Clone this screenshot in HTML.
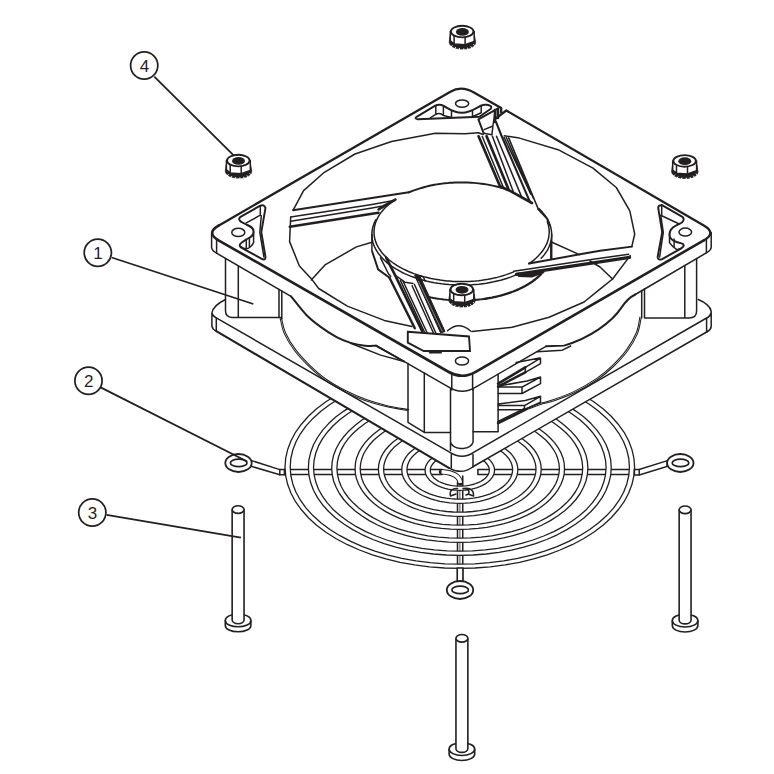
<!DOCTYPE html>
<html><head><meta charset="utf-8"><title>Fan assembly</title>
<style>
html,body{margin:0;padding:0;background:#fff}
svg{display:block}
.t{fill:none;stroke:#231f20;stroke-width:1.5;stroke-linecap:round;stroke-linejoin:round}
.m{fill:none;stroke:#231f20;stroke-width:1.95;stroke-linecap:round;stroke-linejoin:round}
.k{fill:none;stroke:#231f20;stroke-width:2.6;stroke-linecap:round;stroke-linejoin:round}
.w{fill:none;stroke-linecap:butt}
.l{stroke:#231f20;stroke-width:1.8}
text{font-family:"Liberation Sans",sans-serif;font-size:17px;fill:#231f20}
</style></head><body>
<svg width="774" height="774" viewBox="0 0 774 774">
<rect width="774" height="774" fill="#fff"/>
<g id="guard">
<path class="t" d="M284.4,469.5 H442.2 V474.6 H284.4 M635,469.5 H477.9 V474.6 H635" />
<path class="t" d="M457.5,482 V582 M462.75,476 V582" />
<path class="t" d="M459.9,490 V566" style="stroke-width:0.8"/>
<path d="M634.6,467.0 L633.9,475.8 L631.9,484.6 L628.6,493.2 L624.1,501.7 L618.2,509.8 L611.2,517.7 L603.0,525.2 L593.7,532.2 L583.4,538.7 L572.2,544.7 L560.1,550.0 L547.2,554.8 L533.7,558.9 L519.6,562.3 L505.0,564.9 L490.2,566.8 L475.0,568.0 L459.8,568.4 L444.6,568.0 L429.4,566.8 L414.6,564.9 L400.0,562.3 L385.9,558.9 L372.4,554.8 L359.5,550.0 L347.4,544.7 L336.2,538.7 L325.9,532.2 L316.6,525.2 L308.4,517.7 L301.4,509.8 L295.5,501.7 L291.0,493.2 L287.7,484.6 L285.7,475.8 L285.0,467.0 L285.7,458.2 L287.7,449.4 L291.0,440.8 L295.5,432.3 L301.4,424.2 L308.4,416.3 L316.6,408.8 L325.9,401.8 L336.2,395.3 L347.4,389.3 L359.5,384.0 L372.4,379.2 L385.9,375.1 L400.0,371.7 L414.6,369.1 L429.4,367.2 L444.6,366.0 L459.8,365.6 L475.0,366.0 L490.2,367.2 L505.0,369.1 L519.6,371.7 L533.7,375.1 L547.2,379.2 L560.1,384.0 L572.2,389.3 L583.4,395.3 L593.7,401.8 L603.0,408.8 L611.2,416.3 L618.2,424.2 L624.1,432.3 L628.6,440.8 L631.9,449.4 L633.9,458.2 L634.6,467.0 Z M629.4,467.0 L628.8,475.5 L626.8,483.9 L623.6,492.2 L619.2,500.2 L613.5,508.1 L606.7,515.6 L598.7,522.7 L589.7,529.5 L579.7,535.7 L568.8,541.4 L557.1,546.6 L544.6,551.2 L531.5,555.1 L517.8,558.3 L503.7,560.9 L489.3,562.7 L474.6,563.8 L459.8,564.2 L445.0,563.8 L430.3,562.7 L415.9,560.9 L401.8,558.3 L388.1,555.1 L375.0,551.2 L362.5,546.6 L350.8,541.4 L339.9,535.7 L329.9,529.5 L320.9,522.7 L312.9,515.6 L306.1,508.1 L300.4,500.2 L296.0,492.2 L292.8,483.9 L290.8,475.5 L290.2,467.0 L290.8,458.5 L292.8,450.1 L296.0,441.8 L300.4,433.8 L306.1,425.9 L312.9,418.4 L320.9,411.3 L329.9,404.5 L339.9,398.3 L350.8,392.6 L362.5,387.4 L375.0,382.8 L388.1,378.9 L401.8,375.7 L415.9,373.1 L430.3,371.3 L445.0,370.2 L459.8,369.8 L474.6,370.2 L489.3,371.3 L503.7,373.1 L517.8,375.7 L531.5,378.9 L544.6,382.8 L557.1,387.4 L568.8,392.6 L579.7,398.3 L589.7,404.5 L598.7,411.3 L606.7,418.4 L613.5,425.9 L619.2,433.8 L623.6,441.8 L626.8,450.1 L628.8,458.5 L629.4,467.0 Z" fill="#fff" fill-rule="evenodd" stroke="#231f20" stroke-width="1.3" stroke-linejoin="round"/>
<path d="M611.2,467.5 L610.7,475.2 L608.9,482.8 L606.1,490.3 L602.1,497.6 L597.1,504.7 L591.0,511.5 L583.9,517.9 L575.8,524.0 L566.9,529.6 L557.2,534.8 L546.7,539.5 L535.5,543.6 L523.8,547.1 L511.6,550.1 L499.0,552.4 L486.1,554.0 L473.0,555.0 L459.8,555.4 L446.6,555.0 L433.5,554.0 L420.6,552.4 L408.0,550.1 L395.8,547.1 L384.1,543.6 L372.9,539.5 L362.4,534.8 L352.7,529.6 L343.8,524.0 L335.7,517.9 L328.6,511.5 L322.5,504.7 L317.5,497.6 L313.5,490.3 L310.7,482.8 L308.9,475.2 L308.4,467.5 L308.9,459.9 L310.7,452.3 L313.5,444.8 L317.5,437.5 L322.5,430.4 L328.6,423.6 L335.7,417.1 L343.8,411.1 L352.7,405.4 L362.4,400.2 L372.9,395.6 L384.1,391.5 L395.8,387.9 L408.0,385.0 L420.6,382.7 L433.5,381.0 L446.6,380.0 L459.8,379.7 L473.0,380.0 L486.1,381.0 L499.0,382.7 L511.6,385.0 L523.8,387.9 L535.5,391.5 L546.7,395.6 L557.2,400.2 L566.9,405.4 L575.8,411.1 L583.9,417.1 L591.0,423.6 L597.1,430.4 L602.1,437.5 L606.1,444.8 L608.9,452.3 L610.7,459.9 L611.2,467.5 Z M606.1,467.5 L605.5,474.8 L603.8,482.1 L601.1,489.2 L597.2,496.1 L592.3,502.9 L586.5,509.4 L579.6,515.5 L571.8,521.3 L563.2,526.7 L553.8,531.6 L543.7,536.0 L532.9,540.0 L521.6,543.3 L509.8,546.1 L497.7,548.3 L485.2,549.9 L472.5,550.9 L459.8,551.2 L447.1,550.9 L434.4,549.9 L421.9,548.3 L409.8,546.1 L398.0,543.3 L386.7,540.0 L375.9,536.0 L365.8,531.6 L356.4,526.7 L347.8,521.3 L340.0,515.5 L333.1,509.4 L327.3,502.9 L322.4,496.1 L318.5,489.2 L315.8,482.1 L314.1,474.8 L313.5,467.5 L314.1,460.2 L315.8,453.0 L318.5,445.9 L322.4,438.9 L327.3,432.2 L333.1,425.7 L340.0,419.6 L347.8,413.8 L356.4,408.4 L365.8,403.5 L375.9,399.0 L386.7,395.1 L398.0,391.7 L409.8,388.9 L421.9,386.7 L434.4,385.2 L447.1,384.2 L459.8,383.9 L472.5,384.2 L485.2,385.2 L497.7,386.7 L509.8,388.9 L521.6,391.7 L532.9,395.1 L543.7,399.0 L553.8,403.5 L563.2,408.4 L571.8,413.8 L579.6,419.6 L586.5,425.7 L592.3,432.2 L597.2,438.9 L601.1,445.9 L603.8,453.0 L605.5,460.2 L606.1,467.5 Z" fill="#fff" fill-rule="evenodd" stroke="#231f20" stroke-width="1.3" stroke-linejoin="round"/>
<path d="M587.9,468.1 L587.4,474.5 L586.0,481.0 L583.5,487.3 L580.2,493.5 L575.9,499.5 L570.7,505.2 L564.7,510.7 L557.9,515.8 L550.4,520.6 L542.1,525.0 L533.3,528.9 L523.9,532.4 L513.9,535.4 L503.6,537.9 L493.0,539.8 L482.0,541.2 L471.0,542.1 L459.8,542.4 L448.6,542.1 L437.6,541.2 L426.6,539.8 L416.0,537.9 L405.7,535.4 L395.8,532.4 L386.3,528.9 L377.5,525.0 L369.2,520.6 L361.7,515.8 L354.9,510.7 L348.9,505.2 L343.7,499.5 L339.4,493.5 L336.1,487.3 L333.6,481.0 L332.2,474.5 L331.7,468.1 L332.2,461.6 L333.6,455.2 L336.1,448.8 L339.4,442.7 L343.7,436.7 L348.9,430.9 L354.9,425.5 L361.7,420.3 L369.2,415.5 L377.5,411.2 L386.3,407.2 L395.7,403.7 L405.7,400.7 L416.0,398.2 L426.6,396.3 L437.6,394.9 L448.6,394.1 L459.8,393.8 L471.0,394.1 L482.0,394.9 L493.0,396.3 L503.6,398.2 L513.9,400.7 L523.9,403.7 L533.3,407.2 L542.1,411.2 L550.4,415.5 L557.9,420.3 L564.7,425.5 L570.7,430.9 L575.9,436.7 L580.2,442.7 L583.5,448.8 L586.0,455.2 L587.4,461.6 L587.9,468.1 Z M582.7,468.1 L582.2,474.2 L580.8,480.2 L578.5,486.2 L575.3,492.0 L571.2,497.7 L566.2,503.1 L560.5,508.3 L553.9,513.1 L546.7,517.6 L538.8,521.8 L530.3,525.5 L521.2,528.8 L511.7,531.6 L501.8,533.9 L491.6,535.8 L481.1,537.1 L470.5,537.9 L459.8,538.2 L449.1,537.9 L438.5,537.1 L428.0,535.8 L417.8,533.9 L407.9,531.6 L398.4,528.8 L389.3,525.5 L380.8,521.8 L372.9,517.6 L365.7,513.1 L359.1,508.3 L353.4,503.1 L348.4,497.7 L344.3,492.0 L341.1,486.2 L338.8,480.2 L337.4,474.2 L336.9,468.1 L337.4,462.0 L338.8,455.9 L341.1,449.9 L344.3,444.1 L348.4,438.4 L353.4,433.0 L359.1,427.9 L365.7,423.0 L372.9,418.5 L380.8,414.4 L389.3,410.6 L398.3,407.4 L407.9,404.5 L417.8,402.2 L428.0,400.4 L438.5,399.0 L449.1,398.2 L459.8,398.0 L470.5,398.2 L481.1,399.0 L491.6,400.4 L501.8,402.2 L511.7,404.5 L521.2,407.4 L530.3,410.6 L538.8,414.4 L546.7,418.5 L553.9,423.0 L560.5,427.9 L566.2,433.0 L571.2,438.4 L575.3,444.1 L578.5,449.9 L580.8,455.9 L582.2,462.0 L582.7,468.1 Z" fill="#fff" fill-rule="evenodd" stroke="#231f20" stroke-width="1.3" stroke-linejoin="round"/>
<path d="M564.5,468.6 L564.2,473.9 L563.0,479.1 L561.0,484.3 L558.2,489.4 L554.7,494.3 L550.5,499.0 L545.6,503.4 L540.0,507.7 L533.9,511.6 L527.1,515.1 L519.9,518.4 L512.2,521.2 L504.1,523.7 L495.6,525.7 L486.9,527.3 L478.0,528.4 L468.9,529.1 L459.8,529.4 L450.7,529.1 L441.6,528.4 L432.7,527.3 L424.0,525.7 L415.5,523.7 L407.4,521.2 L399.7,518.4 L392.5,515.1 L385.7,511.6 L379.6,507.7 L374.0,503.4 L369.1,499.0 L364.9,494.3 L361.4,489.4 L358.6,484.3 L356.6,479.1 L355.4,473.9 L355.1,468.6 L355.4,463.3 L356.6,458.0 L358.6,452.9 L361.4,447.8 L364.9,442.9 L369.1,438.2 L374.0,433.8 L379.6,429.5 L385.7,425.6 L392.5,422.1 L399.7,418.8 L407.4,416.0 L415.5,413.5 L424.0,411.5 L432.7,409.9 L441.6,408.8 L450.7,408.1 L459.8,407.8 L468.9,408.1 L478.0,408.8 L486.9,409.9 L495.6,411.5 L504.1,413.5 L512.2,416.0 L519.9,418.8 L527.1,422.1 L533.9,425.6 L540.0,429.5 L545.6,433.8 L550.5,438.2 L554.7,442.9 L558.2,447.8 L561.0,452.9 L563.0,458.0 L564.2,463.3 L564.5,468.6 Z M559.4,468.6 L559.0,473.5 L557.8,478.4 L556.0,483.2 L553.3,487.9 L550.0,492.5 L546.0,496.9 L541.3,501.0 L536.1,505.0 L530.2,508.6 L523.8,511.9 L516.9,514.9 L509.6,517.6 L501.9,519.9 L493.8,521.7 L485.6,523.2 L477.1,524.3 L468.5,524.9 L459.8,525.2 L451.1,524.9 L442.5,524.3 L434.0,523.2 L425.8,521.7 L417.7,519.9 L410.0,517.6 L402.7,514.9 L395.8,511.9 L389.4,508.6 L383.5,505.0 L378.3,501.0 L373.6,496.9 L369.6,492.5 L366.3,487.9 L363.6,483.2 L361.8,478.4 L360.6,473.5 L360.2,468.6 L360.6,463.7 L361.8,458.8 L363.6,454.0 L366.3,449.3 L369.6,444.7 L373.6,440.3 L378.3,436.2 L383.5,432.2 L389.4,428.6 L395.8,425.3 L402.7,422.3 L410.0,419.6 L417.7,417.3 L425.8,415.5 L434.0,414.0 L442.5,412.9 L451.1,412.3 L459.8,412.0 L468.5,412.3 L477.1,412.9 L485.6,414.0 L493.8,415.5 L501.9,417.3 L509.6,419.6 L516.9,422.3 L523.8,425.3 L530.2,428.6 L536.1,432.2 L541.3,436.2 L546.0,440.3 L550.0,444.7 L553.3,449.3 L556.0,454.0 L557.8,458.8 L559.0,463.7 L559.4,468.6 Z" fill="#fff" fill-rule="evenodd" stroke="#231f20" stroke-width="1.3" stroke-linejoin="round"/>
<path d="M541.2,469.1 L540.9,473.2 L540.0,477.3 L538.4,481.4 L536.3,485.3 L533.6,489.1 L530.3,492.7 L526.5,496.2 L522.2,499.5 L517.4,502.5 L512.1,505.3 L506.5,507.8 L500.5,510.0 L494.2,511.9 L487.6,513.5 L480.9,514.7 L473.9,515.6 L466.9,516.2 L459.8,516.3 L452.7,516.2 L445.7,515.6 L438.7,514.7 L432.0,513.5 L425.4,511.9 L419.1,510.0 L413.1,507.8 L407.5,505.3 L402.2,502.5 L397.4,499.5 L393.1,496.2 L389.3,492.7 L386.0,489.1 L383.3,485.3 L381.2,481.4 L379.6,477.3 L378.7,473.2 L378.4,469.1 L378.7,465.0 L379.6,460.9 L381.2,456.9 L383.3,453.0 L386.0,449.2 L389.3,445.5 L393.1,442.1 L397.4,438.8 L402.2,435.7 L407.5,433.0 L413.1,430.5 L419.1,428.2 L425.4,426.3 L432.0,424.8 L438.7,423.5 L445.7,422.6 L452.7,422.1 L459.8,421.9 L466.9,422.1 L473.9,422.6 L480.9,423.5 L487.6,424.8 L494.2,426.3 L500.5,428.2 L506.5,430.5 L512.1,433.0 L517.4,435.7 L522.2,438.8 L526.5,442.1 L530.3,445.5 L533.6,449.2 L536.3,453.0 L538.4,456.9 L540.0,460.9 L540.9,465.0 L541.2,469.1 Z M536.0,469.1 L535.7,472.9 L534.8,476.6 L533.4,480.3 L531.4,483.8 L528.9,487.3 L525.8,490.6 L522.2,493.8 L518.2,496.8 L513.7,499.5 L508.8,502.1 L503.5,504.4 L497.9,506.4 L492.0,508.1 L485.9,509.6 L479.5,510.7 L473.0,511.5 L466.4,512.0 L459.8,512.1 L453.2,512.0 L446.6,511.5 L440.1,510.7 L433.7,509.6 L427.6,508.1 L421.7,506.4 L416.1,504.4 L410.8,502.1 L405.9,499.5 L401.4,496.8 L397.4,493.8 L393.8,490.6 L390.7,487.3 L388.2,483.8 L386.2,480.3 L384.8,476.6 L383.9,472.9 L383.6,469.1 L383.9,465.4 L384.8,461.7 L386.2,458.0 L388.2,454.4 L390.7,451.0 L393.8,447.6 L397.4,444.5 L401.4,441.5 L405.9,438.7 L410.8,436.2 L416.1,433.9 L421.7,431.9 L427.6,430.1 L433.7,428.7 L440.1,427.6 L446.6,426.8 L453.2,426.3 L459.8,426.1 L466.4,426.3 L473.0,426.8 L479.5,427.6 L485.9,428.7 L492.0,430.1 L497.9,431.9 L503.5,433.9 L508.8,436.2 L513.7,438.7 L518.2,441.5 L522.2,444.5 L525.8,447.6 L528.9,451.0 L531.4,454.4 L533.4,458.0 L534.8,461.7 L535.7,465.4 L536.0,469.1 Z" fill="#fff" fill-rule="evenodd" stroke="#231f20" stroke-width="1.3" stroke-linejoin="round"/>
<path d="M517.9,469.7 L517.6,472.6 L517.0,475.5 L515.9,478.4 L514.3,481.2 L512.4,483.9 L510.1,486.5 L507.4,489.0 L504.3,491.3 L500.8,493.5 L497.1,495.5 L493.1,497.2 L488.8,498.8 L484.3,500.2 L479.7,501.3 L474.8,502.2 L469.9,502.8 L464.9,503.2 L459.8,503.3 L454.7,503.2 L449.7,502.8 L444.8,502.2 L439.9,501.3 L435.3,500.2 L430.8,498.8 L426.5,497.2 L422.5,495.5 L418.8,493.5 L415.3,491.3 L412.2,489.0 L409.5,486.5 L407.2,483.9 L405.3,481.2 L403.7,478.4 L402.6,475.5 L402.0,472.6 L401.8,469.7 L402.0,466.7 L402.6,463.8 L403.7,461.0 L405.3,458.1 L407.2,455.4 L409.5,452.8 L412.2,450.4 L415.3,448.0 L418.8,445.9 L422.5,443.9 L426.5,442.1 L430.8,440.5 L435.3,439.2 L439.9,438.0 L444.8,437.1 L449.7,436.5 L454.7,436.1 L459.8,436.0 L464.9,436.1 L469.9,436.5 L474.8,437.1 L479.7,438.0 L484.3,439.2 L488.8,440.5 L493.1,442.1 L497.1,443.9 L500.8,445.9 L504.3,448.0 L507.4,450.4 L510.1,452.8 L512.4,455.4 L514.3,458.1 L515.9,461.0 L517.0,463.8 L517.6,466.7 L517.9,469.7 Z M512.6,469.7 L512.4,472.2 L511.8,474.8 L510.8,477.3 L509.5,479.7 L507.7,482.1 L505.6,484.4 L503.1,486.6 L500.3,488.6 L497.2,490.5 L493.8,492.2 L490.1,493.8 L486.2,495.2 L482.1,496.4 L477.9,497.4 L473.5,498.1 L469.0,498.7 L464.4,499.0 L459.8,499.1 L455.2,499.0 L450.6,498.7 L446.1,498.1 L441.7,497.4 L437.5,496.4 L433.4,495.2 L429.5,493.8 L425.8,492.2 L422.4,490.5 L419.3,488.6 L416.5,486.6 L414.0,484.4 L411.9,482.1 L410.1,479.7 L408.8,477.3 L407.8,474.8 L407.2,472.2 L406.9,469.7 L407.2,467.1 L407.8,464.5 L408.8,462.0 L410.1,459.6 L411.9,457.2 L414.0,454.9 L416.5,452.8 L419.3,450.7 L422.4,448.8 L425.8,447.1 L429.5,445.5 L433.4,444.1 L437.5,443.0 L441.7,442.0 L446.1,441.2 L450.6,440.6 L455.2,440.3 L459.8,440.2 L464.4,440.3 L469.0,440.6 L473.5,441.2 L477.9,442.0 L482.1,443.0 L486.2,444.1 L490.1,445.5 L493.8,447.1 L497.2,448.8 L500.3,450.7 L503.1,452.8 L505.6,454.9 L507.7,457.2 L509.5,459.6 L510.8,462.0 L511.8,464.5 L512.4,467.1 L512.6,469.7 Z" fill="#fff" fill-rule="evenodd" stroke="#231f20" stroke-width="1.3" stroke-linejoin="round"/>
<path d="M494.5,470.2 L494.4,472.0 L494.0,473.7 L493.3,475.4 L492.4,477.1 L491.2,478.7 L489.9,480.3 L488.2,481.7 L486.4,483.1 L484.3,484.4 L482.1,485.6 L479.7,486.7 L477.2,487.6 L474.5,488.4 L471.7,489.1 L468.8,489.6 L465.8,490.0 L462.8,490.2 L459.8,490.3 L456.8,490.2 L453.8,490.0 L450.8,489.6 L447.9,489.1 L445.1,488.4 L442.5,487.6 L439.9,486.7 L437.5,485.6 L435.3,484.4 L433.2,483.1 L431.4,481.7 L429.7,480.3 L428.4,478.7 L427.2,477.1 L426.3,475.4 L425.6,473.7 L425.2,472.0 L425.1,470.2 L425.2,468.4 L425.6,466.7 L426.3,465.0 L427.2,463.3 L428.4,461.7 L429.7,460.1 L431.4,458.7 L433.2,457.3 L435.3,456.0 L437.5,454.8 L439.9,453.7 L442.4,452.8 L445.1,452.0 L447.9,451.3 L450.8,450.8 L453.8,450.4 L456.8,450.1 L459.8,450.1 L462.8,450.1 L465.8,450.4 L468.8,450.8 L471.7,451.3 L474.5,452.0 L477.2,452.8 L479.7,453.7 L482.1,454.8 L484.3,456.0 L486.4,457.3 L488.2,458.7 L489.9,460.1 L491.2,461.7 L492.4,463.3 L493.3,465.0 L494.0,466.7 L494.4,468.4 L494.5,470.2 Z M489.3,470.2 L489.2,471.6 L488.9,473.0 L488.3,474.3 L487.5,475.6 L486.5,476.9 L485.3,478.2 L484.0,479.3 L482.4,480.4 L480.7,481.5 L478.8,482.4 L476.7,483.2 L474.6,484.0 L472.3,484.6 L469.9,485.2 L467.4,485.6 L464.9,485.9 L462.4,486.1 L459.8,486.1 L457.2,486.1 L454.7,485.9 L452.2,485.6 L449.7,485.2 L447.3,484.6 L445.1,484.0 L442.9,483.2 L440.8,482.4 L438.9,481.5 L437.2,480.4 L435.6,479.3 L434.3,478.2 L433.1,476.9 L432.1,475.6 L431.3,474.3 L430.7,473.0 L430.4,471.6 L430.3,470.2 L430.4,468.8 L430.7,467.4 L431.3,466.1 L432.1,464.8 L433.1,463.5 L434.3,462.2 L435.6,461.1 L437.2,460.0 L438.9,458.9 L440.8,458.0 L442.9,457.2 L445.1,456.4 L447.3,455.8 L449.7,455.2 L452.2,454.8 L454.7,454.5 L457.2,454.3 L459.8,454.3 L462.4,454.3 L464.9,454.5 L467.4,454.8 L469.9,455.2 L472.3,455.8 L474.6,456.4 L476.7,457.2 L478.8,458.0 L480.7,458.9 L482.4,460.0 L484.0,461.1 L485.3,462.2 L486.5,463.5 L487.5,464.8 L488.3,466.1 L488.9,467.4 L489.2,468.8 L489.3,470.2 Z" fill="#fff" fill-rule="evenodd" stroke="#231f20" stroke-width="1.3" stroke-linejoin="round"/>
<path class="t" d="M441.5,471.8 C452,472.5 459.5,475 460.3,483" style="stroke-width:5.4"/>
<path class="w" d="M441.5,471.8 C452,472.5 459.5,475 460.3,483" style="stroke-width:3.6;stroke:#fff"/>
<path class="t" d="M450.5,496 C449,490 453,488 457.6,488.5 M463,488.5 C470,487.5 474,490 473.5,496 M450.5,496 L456,494 M468,494 L473.5,496 M466,489 C470,490 470,494 466,495" />
<path d="M251.5,460.6 L279.8,469.6 L284.4,469.6 V474.8 H279.8 L251,466.2 Z" fill="#fff" stroke="#231f20" stroke-width="1.5"/>
<path class="t" d="M279.8,469.6 V474.8" />
<path d="M667.5,460.6 L639.1,469.5 L634.4,469.5 V475 H639.3 L667,466.4 Z" fill="#fff" stroke="#231f20" stroke-width="1.5"/>
<path class="t" d="M639.2,469.5 V475" />
<path d="M457.3,568 V581.5 H462.9 V568 Z" fill="#fff" stroke="#231f20" stroke-width="1.5"/>
<ellipse cx="238.5" cy="463" rx="13.2" ry="9.0" fill="#fff" stroke="#231f20" stroke-width="1.8"/>
<ellipse cx="238.7" cy="462.9" rx="8.3" ry="3.8" fill="#fff" stroke="#231f20" stroke-width="1.7"/>
<ellipse cx="680.3" cy="463" rx="13.2" ry="9.0" fill="#fff" stroke="#231f20" stroke-width="1.8"/>
<ellipse cx="680.5" cy="462.9" rx="8.3" ry="3.8" fill="#fff" stroke="#231f20" stroke-width="1.7"/>
<ellipse cx="460" cy="590" rx="13.2" ry="9.0" fill="#fff" stroke="#231f20" stroke-width="1.8"/>
<ellipse cx="460.2" cy="589.9" rx="8.3" ry="3.8" fill="#fff" stroke="#231f20" stroke-width="1.7"/>
</g>
<path d="M218.5,225.7 L450.4,91.7 Q461.4,85.3 473.9,92.5 L703.8,225.4 Q716.8,232.9 711.2,240 V326.4 L707.5,331.5 L473.3,466.5 Q462,475.5 448.8,467.8 L216.3,331.1 L211.6,326.2 V233.5 Z" fill="#fff" stroke="none"/>
<g id="fan">
<path class="k" d="M218.5,225.7 L450.4,91.7 Q461.4,85.3 473.9,92.5 L501.2,107.9 V112.6" style="stroke-width:2.3"/>
<path class="k" d="M496,118.3 L506.3,110.5 L703.8,225.4 Q716.8,232.9 703.8,240.4" style="stroke-width:2.3"/>
<path class="k" d="M703.8,240.4 L475.7,371.8 Q462.2,379.6 448.8,372 L218.5,240.3 Q205.8,233.1 218.5,225.7" />
<path class="t" d="M211.6,233.5 V247.6 Q212.3,251 216.6,253.2 L291,296.3" />
<path class="t" d="M216.6,239 V253.2 M451.8,374.6 V390 M472.6,374.6 V390 M706.4,239.6 V253" />
<path class="t" d="M376,345.3 L448.8,387.2 Q462.2,395.5 475.7,387.2 L546,346.3" />
<path class="t" d="M635.3,294.5 L707.5,252.2 Q711,250 711.2,247.2 V232.5" />
<ellipse class="t" cx="238.3" cy="232.4" rx="6.5" ry="4.1"/>
<ellipse class="t" cx="462.1" cy="103.6" rx="6.6" ry="3.7"/>
<ellipse class="t" cx="685.3" cy="232.1" rx="6.3" ry="4.0"/>
<ellipse class="t" cx="462" cy="361" rx="6.6" ry="4.0"/>
<path class="m" d="M240.1,217.2 L259.8,205.9 Q263.8,204 265.5,207.9 L261.3,232.2 L265.5,257 Q265.6,260.8 261.3,258.6 L245.3,249.8 L241,247.5 Q238.2,245 241.5,242.8 L246.3,239.4 C250,237.5 253.6,236 253.6,231.7 C253.6,227.5 250,226 246.3,224.5 L241.2,221.9 Q237.8,219.5 240.1,217.2 Z" />
<path class="t" d="M246.3,222.9 L260.3,215.2 M260.3,206 V215.2 M261.3,215.7 L259.8,232.2 L263.9,257 M253.6,231.7 V242.5 M249.4,238 V246.7 M246.3,239.8 V248.7 M241.2,246.9 Q246,251 250.5,246.7 Q253,244.5 253.6,242.5" />
<path class="m" d="M417.8,119.2 Q414,118.8 416.6,116.8 L435.3,105.7 Q438,104.2 441.5,105 C447,106.5 451,112.7 462,112.7 C473,112.7 477,106 484.1,104.8 Q488,104.3 489.9,105.7 Q492.5,107 490.5,109 L479.4,116.8 Z" />
<path class="t" d="M435.8,105.7 V114.4 M443.4,106.9 V115.6 M451.5,111.5 V117.1 M472.5,111 V116.8 M481.2,105.7 V112.7 M430.6,117.6 L435.8,114.4 Q439.9,112 443.4,115.6 L451.5,117.4 M481.2,112.7 L472.5,116.8" />
<path class="m" d="M660.7,205.2 Q662,204.8 663.3,205.9 L682.4,216.8 Q685.2,219.4 681.9,222.5 C677,225 669.5,227.5 669.5,234.3 C669.5,241 677,242.3 682.4,243.6 Q685.5,245.7 681.3,248.3 L662.2,259.1 Q658.2,260.8 657.6,257.1 L662.2,232.3 L658.2,207.8 Q658.3,205.5 660.7,205.2 Z" />
<path class="t" d="M661.7,206.4 V214.7 M660.7,215.2 L679.3,224 M660.7,215.2 L663.3,232.3 L659.6,257.1 M669.5,234.3 V242.6 M674.1,239 V247.8 M669.5,242.6 Q672,246.5 677.2,249.8 L681.3,248.3" />
<path class="t" d="M293.3,209.8 L303.6,190.6 L324.3,172.3 L355.0,154.0 L391.5,141.5 L435.4,133.2 L465.0,133.8 L478.4,132.7" />
<path class="t" d="M504.3,135.8 L519.4,138.1 L558.1,149.7 L593.0,168.1 L616.3,187.5 L629.8,210.8 L634.7,234.0 L631.8,246.6" />
<path class="t" d="M630.2,255.6 L612.6,279.0 L600.0,289.2 L584.1,302.0 L549.1,317.3 L512.1,327.3 L471.8,331.5" />
<path class="t" d="M412.0,326.5 L384.2,320.4 L347.3,306.1 L318.7,288.5 L311.1,278.4 L299.4,266.0 L289.6,241.6 L290.7,217.0" />
<path class="t" d="M311.3,280.0 L320.4,270.0 L325.0,264.9 L356.4,246.9 L372.0,242.2" />
<path class="m" d="M293,210.2 L408.9,192.2" />
<path class="t" d="M290.7,217 L372,204.4 L393.7,200.6" />
<path class="t" d="M290.7,221.3 L372,207.9 L381,206.3" />
<path class="k" d="M289.8,226.7 L372,213.7 L378.5,212.7" />
<path class="k" d="M378.6,209.5 L395.4,199.6 L381,207.5 Z" />
<path class="m" d="M408.9,192.4 L411.0,191.5 L413.2,190.7 L415.4,189.9 L417.7,189.1 L420.0,188.4 L422.3,187.7 L424.7,187.0 L427.1,186.4 L429.5,185.8 L432.0,185.3 L434.5,184.8 L437.0,184.4 L439.6,184.0 L442.1,183.6 L444.7,183.3 L447.3,183.1 L449.9,182.8 L452.5,182.7 L455.1,182.5 L457.8,182.4 L460.4,182.4 L463.1,182.4 L465.7,182.5 L468.3,182.5 L470.9,182.7 L473.6,182.9 L476.2,183.1 L478.8,183.4 L481.3,183.7 L483.9,184.0 L486.4,184.4 L489.0,184.9 L491.5,185.4 L493.9,185.9 L496.4,186.5 L498.8,187.1 L501.1,187.7 L503.5,188.4 L505.8,189.2 L508.0,189.9" />
<path class="t" d="M395.5,199.5 L392.2,201.7 L389.1,204.1 L386.3,206.6 L383.8,209.2 L381.5,211.9 L379.5,214.6 L377.9,217.4 L376.5,220.3 L375.4,223.2 L374.6,226.1 L374.2,229.0 L374.0,232.0 374.0,232.0 L374.1,233.8 L374.2,235.6 L374.5,237.5 L374.9,239.3 L375.5,241.1 L376.1,242.9 L376.9,244.6 L377.8,246.4 L378.8,248.1 L379.9,249.8 L381.1,251.5 L382.4,253.2 L383.8,254.8 L385.4,256.4 L387.0,258.0 L388.7,259.5 L390.6,261.0 L392.5,262.5 L394.6,263.9 L396.7,265.3 L398.9,266.6 L401.2,267.9 L403.5,269.1 L406.0,270.3 L408.5,271.5 L411.1,272.5 L413.8,273.6 L416.5,274.5 L419.3,275.4 L422.2,276.3 L425.1,277.1 L428.0,277.8 L431.0,278.5 L434.1,279.1 L437.1,279.6 L440.3,280.1 L443.4,280.5 L446.6,280.9 L449.7,281.1 L453.0,281.4 L456.2,281.5 L459.4,281.6 L462.6,281.6 L465.8,281.5 L469.0,281.4 L472.3,281.2 L475.4,281.0 L478.6,280.7 L481.8,280.3 L484.9,279.8 L488.0,279.3 L491.0,278.7 L494.0,278.1 L497.0,277.4 L499.9,276.6 L502.8,275.8 L505.6,274.9 L508.4,273.9 L511.1,272.9 L513.7,271.9" />
<path class="t" d="M529.0,263.7 L531.5,261.9 L533.8,260.1 L535.9,258.2 L537.9,256.3 L539.8,254.3 L541.5,252.3 L543.0,250.3 L544.4,248.2 L545.6,246.0 L546.7,243.9 L547.5,241.7 L548.2,239.5 L548.7,237.3 L549.0,235.0 L549.2,232.8 L549.2,230.6 L549.0,228.3 L548.6,226.1 L548.0,223.9 L547.3,221.7" />
<path class="t" d="M375.8,219.8 L374.8,221.9 L373.9,223.9 L373.2,226.0 L372.6,228.1 L372.2,230.2 L372.0,232.4 L371.9,234.5 L372.0,236.6 L372.2,238.7 L372.6,240.8 L373.1,242.9 L373.8,245.0 L374.7,247.1 L375.7,249.1 L376.9,251.2 L378.2,253.2 L379.7,255.1 L381.3,257.0 L383.0,258.9 L384.9,260.8 L386.9,262.6 L389.1,264.3 L391.4,266.0 L393.8,267.6 L396.3,269.2 L399.0,270.7 L401.7,272.2 L404.6,273.6 L407.6,274.9 L410.6,276.1 L413.8,277.3 L417.0,278.4 L420.3,279.4 L423.7,280.3 L427.2,281.2 L430.7,282.0 L434.3,282.7 L437.9,283.3 L441.6,283.8 L445.3,284.2 L449.0,284.6 L452.7,284.8 L456.5,285.0 L460.3,285.1 L464.1,285.1 L467.9,285.0 L471.6,284.8 L475.4,284.5 L479.1,284.2 L482.8,283.7 L486.4,283.2 L490.1,282.5 L493.6,281.8 L497.1,281.0 L500.6,280.2 L504.0,279.2 L507.3,278.2 L510.5,277.1 L513.6,275.9 L516.7,274.6" />
<path class="t" d="M541.2,258.3 L542.8,256.5 L544.3,254.6 L545.7,252.7 L547.0,250.8 L548.1,248.8 L549.0,246.8 L549.8,244.8 L550.5,242.8 L551.0,240.8 L551.4,238.7 L551.6,236.7 L551.7,234.6 551.7,234.6 L551.6,232.3 L551.3,230.1 L550.9,227.8 L550.2,225.5 L549.4,223.3 L548.4,221.1 L547.3,218.9 L545.9,216.8 L544.4,214.7 L542.7,212.6 L540.9,210.6 L538.9,208.6" />
<path class="m" d="M426.7,296.5 L428.1,296.8 L429.4,297.1 L430.8,297.4 L432.2,297.7 L433.6,298.0 L435.1,298.2 L436.5,298.5 L437.9,298.7 L439.4,298.9 L440.8,299.1 L442.3,299.3 L443.7,299.5 L445.2,299.6 L446.7,299.8 L448.1,299.9 L449.6,300.0 L451.1,300.1 L452.6,300.2 L454.0,300.3 L455.5,300.4 L457.0,300.4 L458.5,300.5 L460.0,300.5 L461.5,300.5 L463.0,300.5 L464.5,300.5 L466.0,300.4 L467.4,300.4 L468.9,300.3 L470.4,300.3 L471.9,300.2 L473.4,300.1 L474.9,300.0 L476.3,299.8 L477.8,299.7 L479.3,299.5 L480.7,299.4 L482.2,299.2 L483.6,299.0 L485.1,298.8" />
<path class="k" d="M485.1,298.8 L486.8,298.5 L488.6,298.2 L490.4,297.9 L492.1,297.6 L493.8,297.2 L495.5,296.8 L497.3,296.4 L498.9,296.0 L500.6,295.6 L502.3,295.1 L503.9,294.7 L505.5,294.2 L507.1,293.7 L508.7,293.2 L510.3,292.6 L511.8,292.0 L513.3,291.5 L514.8,290.9 L516.3,290.3 L517.8,289.6 L519.2,289.0 L520.6,288.3 L522.0,287.6 L523.3,286.9 L524.7,286.2 L526.0,285.5 L527.3,284.8 L528.5,284.0 L529.7,283.3 L530.9,282.5 L532.1,281.7 L533.2,280.9 L534.3,280.0 L535.4,279.2 L536.4,278.4 L537.5,277.5 L538.4,276.6 L539.4,275.8 L540.3,274.9 L541.2,274.0" style="stroke-width:2.3"/>
<path class="t" d="M371.9,234.6 V250.5" />
<path class="t" d="M551.7,234.6 V259.5" />
<path class="k" d="M478.6,136.3 L500,186.2" style="stroke-width:2.7"/>
<path class="t" d="M482.3,136.5 L503.5,187.8" />
<path class="k" d="M486.6,136.2 L508.7,189.7" style="stroke-width:2.7"/>
<path class="t" d="M492.4,136.2 L513.4,192" />
<path class="t" d="M496.5,136.2 L521.5,196.6" />
<path class="m" d="M496,121.9 L501.2,135 L529.7,201.3" style="stroke-width:2.1"/>
<path class="t" d="M504.1,137.3 L530.8,194.3 M506.4,137.5 L533.5,198.5" />
<path class="t" d="M508.7,137.9 L538.4,209.4" />
<path class="m" d="M538.4,209.4 L547.1,218.7 L549.6,225" />
<path class="k" d="M500,186.2 L508.7,190.2 L532,203" />
<path class="m" d="M498.1,108.4 L478.4,119.3 L483.6,133.2" />
<path class="t" d="M483.6,133.2 L491.9,134.8 L492.9,126 L495,112.6 M484.1,129.6 L492.9,126 M478.4,132.7 L483,134.5" />
<path class="k" d="M495,110 V122 M498,109 V118" />
<path class="m" d="M372.2,251.5 L378.1,269.4 L389.5,277.7" />
<path class="k" d="M389.5,277.7 L414.8,328.3" style="stroke-width:2.4"/>
<path class="t" d="M380.5,257.8 L388.6,274 L390.8,276.3" />
<path class="k" d="M386.3,257.8 L395,275 L422.1,331" style="stroke-width:2.7"/>
<path class="t" d="M400.4,280.4 L424.8,332.9 M403.1,281.3 L427,332.5" />
<path class="t" d="M412.1,285.8 L433.8,333.8 M414.5,284.5 L436,333.5" />
<path d="M414.6,275.3 L419.8,275.8 L445,331.5 L440.6,333 Z" fill="#231f20" stroke="#231f20" stroke-width="1.0" stroke-linejoin="round"/>
<path class="w" d="M418.3,281 L442.3,331.5" style="stroke:#fff;stroke-width:0.45"/>
<path class="t" d="M395,275 L404.9,282.2 L413,283.6" />
<path class="t" d="M419.8,275.8 L423.5,277 L425,281" />
<path class="m" d="M529,263.5 L580,254.3 L600,250.7 L631.8,246.6" />
<path class="t" d="M513.7,271.3 L595,259.1 L628.6,254.2" />
<path class="k" d="M516.6,274.4 L595,262.6 L629.6,257.4" style="stroke-width:3.3"/>
<path class="m" d="M516.6,273.6 L519,276 L531.7,276.5 L543.4,272.4 Z" style="fill:#231f20"/>
<path class="t" d="M550.8,241.7 V258.5 M550.8,241.7 L579.5,254.6 M590,261 L600,267 L612.6,279" />
<path class="t" d="M447.5,330.8 Q459,320.5 470.5,331" />
<path d="M407.8,331.7 L469,336.5 L470,351 L423.7,351 L407.8,342.6 Z" fill="#fff" stroke="#231f20" stroke-width="1.9"/>
<path class="t" d="M429.5,352.7 H441.2" style="stroke-width:1.6"/>
<path class="t" d="M225.5,258.5 V310.8 Q225.5,317.3 232,317.4 H281 M238.3,266 V317.4 M279,289.4 V317.6 M281.8,291 V318.7" />
<path class="t" d="M225.5,299.5 Q213,305.5 211.9,313 V326.2 Q212.5,329.6 216.3,331.1 M216.3,317.9 V331.1 M211.9,313 Q212.5,316 216.3,317.9" />
<path class="t" d="M216.3,317.9 L449.6,452.1 Q462.2,460.5 474,452.1 L706.6,318" />
<path class="m" d="M216.3,331.1 L448.8,467.8" style="stroke-width:2.1"/>
<path class="t" d="M473.3,466.5 L707.5,331.5" />
<path class="t" d="M448.8,467.8 Q462,475.5 473.3,466.5" />
<path class="t" d="M451.3,454.4 V467.5 M473,454.4 V467" />
<path class="t" d="M698.3,299.5 Q710,304.5 711.2,311.3 V326.4 Q711,329.6 707.5,331.5 M706.6,318.3 V332 M711.2,312.5 Q710.5,316 706.6,318.3" />
<path class="t" d="M408,363.6 V422.3 L424.3,432.4 H450.5 M424.3,373 V432.4" />
<path class="t" d="M450.5,388.7 V441 450.5,441.0 L450.6,442.2 L451.1,443.3 L451.7,444.4 L452.7,445.4 L453.8,446.3 L455.2,447.1 L456.7,447.7 L458.3,448.1 L460.0,448.4 L461.8,448.5 L463.6,448.4 L465.3,448.1 L466.9,447.7 L468.4,447.1 L469.8,446.3 L470.9,445.4 L471.9,444.4 L472.5,443.3 L473.0,442.2 L473.1,441.0 V388.7" />
<path class="t" d="M473.1,431.7 H498.1 M498.1,374.3 V431.7" />
<path class="t" d="M641.7,290.4 V318 M644.5,288.8 V318 H689 Q696.6,318 696.6,311 V258.6 M684.8,265.5 V318" />
<path class="m" d="M291.0,296.3 C293.6,299.4 301.5,309.9 306.4,315.0 C311.3,320.1 315.3,322.9 320.3,326.6 C325.3,330.3 331.6,334.4 336.6,337.1 C341.7,339.8 345.9,341.4 350.6,342.9 C355.3,344.3 360.8,345.4 365.0,345.8 C369.2,346.2 374.0,345.6 375.8,345.6 L404.1,361.5" />
<path class="t" d="M350.6,343.3 L380.6,355.1 L404.1,361.5" />
<path class="t" d="M280.2,318.5 C280.9,321.0 281.9,328.2 284.3,333.6 C286.7,339.0 290.7,345.6 294.8,351.0 C298.9,356.4 303.7,361.3 308.7,366.2 C313.7,371.1 319.0,375.9 325.0,380.1 C331.0,384.4 338.1,388.3 344.8,391.7 C351.5,395.1 358.3,398.1 365.0,400.5 C371.7,402.9 377.9,404.6 385.0,406.3 C392.1,408.0 403.8,409.8 407.5,410.5" style="stroke-width:1.05"/>
<path class="t" d="M281.4,317.6 C282.1,320.1 283.1,327.3 285.5,332.7 C287.9,338.1 291.9,344.7 296.0,350.1 C300.1,355.5 304.9,360.4 309.9,365.3 C314.9,370.2 320.2,375.0 326.2,379.2 C332.2,383.5 339.3,387.4 346.0,390.8 C352.7,394.2 359.5,397.2 366.2,399.6 C372.9,402.0 379.1,403.7 386.2,405.4 C393.3,407.1 404.9,408.9 408.7,409.6" style="stroke-width:1.05"/>
<path class="m" d="M546,346.2 L564,345.6 C590,338 612,322 621.8,307.1 Q628,298 635.3,294.5" />
<path class="t" d="M537.1,351.8 L562.3,350.2 L570.7,346" />
<path class="t" d="M641.1,318.0 C640.5,320.6 639.8,328.1 637.5,333.6 C635.2,339.1 631.5,345.5 627.5,351.0 C623.5,356.5 618.4,361.8 613.5,366.5 C608.6,371.2 604.2,375.1 598.0,379.3 C591.8,383.6 583.2,388.5 576.0,392.0 C568.8,395.5 560.9,398.4 555.0,400.5 C549.1,402.6 544.9,403.1 540.5,404.5 C536.1,405.9 530.7,408.2 528.7,408.9" style="stroke-width:1.05"/>
<path class="t" d="M639.9,317.1 C639.3,319.7 638.6,327.2 636.3,332.7 C634.0,338.2 630.3,344.6 626.3,350.1 C622.3,355.6 617.2,360.9 612.3,365.6 C607.4,370.3 603.0,374.2 596.8,378.4 C590.5,382.7 582.0,387.6 574.8,391.1 C567.6,394.6 559.7,397.5 553.8,399.6 C547.9,401.7 543.7,402.2 539.3,403.6 C534.9,405.0 529.5,407.3 527.5,408.0" style="stroke-width:1.05"/>
<path class="k" d="M498.1,383.7 L525.3,367.3 M498.1,386.6 L525.3,372.3" />
<path class="t" d="M525.3,367.3 L540.5,358.2 V363.6 L525.3,372.3 Z M516.1,362.6 L539.6,357.9" />
<path class="t" d="M498.1,387.1 H522 V393.5 H498.1 M522,387.1 L540.5,377 V383.7 L522,393.5 M500,385.8 L527,381 L540.5,377" />
<path class="t" d="M498.1,405.6 H524.5 V409.8 H498.1 M524.5,405.6 L540.5,396.3 V402.2 L524.5,409.8 M498.1,403.9 L525.3,400.5 L540.5,396.3" />
<path class="k" d="M498.1,423.2 L527,408.9" />
<path class="t" d="M498.1,421.4 L524,408.6" />
</g>
<g transform="translate(238.1,509.6)">
<path d="M-12.8,110.8 V115.8 A12.8,6.4 0 0 0 12.8,115.8 V110.8" fill="#fff" stroke="#231f20" stroke-width="1.6"/>
<ellipse cx="0" cy="110.8" rx="12.8" ry="6.4" fill="#fff" stroke="#231f20" stroke-width="1.6"/>
<path d="M-5.95,0 V110.5 A5.95,3.6 0 0 0 5.95,110.5 V0" fill="#fff" stroke="#231f20" stroke-width="1.6"/>
<ellipse cx="0" cy="0" rx="5.95" ry="3.8" fill="#fff" stroke="#231f20" stroke-width="1.6"/>
</g>
<g transform="translate(685.1,509.8)">
<path d="M-12.8,110.8 V115.8 A12.8,6.4 0 0 0 12.8,115.8 V110.8" fill="#fff" stroke="#231f20" stroke-width="1.6"/>
<ellipse cx="0" cy="110.8" rx="12.8" ry="6.4" fill="#fff" stroke="#231f20" stroke-width="1.6"/>
<path d="M-5.95,0 V110.5 A5.95,3.6 0 0 0 5.95,110.5 V0" fill="#fff" stroke="#231f20" stroke-width="1.6"/>
<ellipse cx="0" cy="0" rx="5.95" ry="3.8" fill="#fff" stroke="#231f20" stroke-width="1.6"/>
</g>
<g transform="translate(461.9,638.3)">
<path d="M-12.8,110.8 V115.8 A12.8,6.4 0 0 0 12.8,115.8 V110.8" fill="#fff" stroke="#231f20" stroke-width="1.6"/>
<ellipse cx="0" cy="110.8" rx="12.8" ry="6.4" fill="#fff" stroke="#231f20" stroke-width="1.6"/>
<path d="M-5.95,0 V110.5 A5.95,3.6 0 0 0 5.95,110.5 V0" fill="#fff" stroke="#231f20" stroke-width="1.6"/>
<ellipse cx="0" cy="0" rx="5.95" ry="3.8" fill="#fff" stroke="#231f20" stroke-width="1.6"/>
</g>
<g transform="translate(238.3,160.6)">
<path d="M-12.1,4 L-13,10.5 C-12.8,14.8 -7,17.5 0.5,17.5 C8,17.5 13.5,14.8 13.4,10.5 L12.3,4 Z" fill="#231f20" stroke="#231f20" stroke-width="0.8" stroke-linejoin="round"/>
<path d="M-11.3,15.4 L-9.8,13.8 M-7.6,17.4 L-6.5,15.6 M-3.2,18.5 L-2.6,16.6 M1.6,18.7 L1.6,16.8 M6,18.1 L5.4,16.2 M9.8,16.4 L8.6,14.8 M12.6,14 L11.2,12.8" stroke="#fff" stroke-width="1.0" fill="none"/>
<path d="M-11.9,0 V9.3 L-8.1,12.3 L2.9,13.1 L12,9.9 V0 Z" fill="#fff" stroke="#231f20" stroke-width="1.5" stroke-linejoin="round"/>
<path d="M-8.1,4.5 V12.3 M2.9,5.5 V13.1" fill="none" stroke="#231f20" stroke-width="1.5"/>
<ellipse cx="0" cy="0" rx="11.3" ry="5.8" fill="#fff" stroke="#231f20" stroke-width="1.9"/>
<ellipse cx="0.2" cy="0.3" rx="6.5" ry="3.9" fill="#231f20"/>
</g>
<g transform="translate(462.2,31.6)">
<path d="M-12.1,4 L-13,10.5 C-12.8,14.8 -7,17.5 0.5,17.5 C8,17.5 13.5,14.8 13.4,10.5 L12.3,4 Z" fill="#231f20" stroke="#231f20" stroke-width="0.8" stroke-linejoin="round"/>
<path d="M-11.3,15.4 L-9.8,13.8 M-7.6,17.4 L-6.5,15.6 M-3.2,18.5 L-2.6,16.6 M1.6,18.7 L1.6,16.8 M6,18.1 L5.4,16.2 M9.8,16.4 L8.6,14.8 M12.6,14 L11.2,12.8" stroke="#fff" stroke-width="1.0" fill="none"/>
<path d="M-11.9,0 V9.3 L-8.1,12.3 L2.9,13.1 L12,9.9 V0 Z" fill="#fff" stroke="#231f20" stroke-width="1.5" stroke-linejoin="round"/>
<path d="M-8.1,4.5 V12.3 M2.9,5.5 V13.1" fill="none" stroke="#231f20" stroke-width="1.5"/>
<ellipse cx="0" cy="0" rx="11.3" ry="5.8" fill="#fff" stroke="#231f20" stroke-width="1.9"/>
<ellipse cx="0.2" cy="0.3" rx="6.5" ry="3.9" fill="#231f20"/>
</g>
<g transform="translate(684.6,160.9)">
<path d="M-12.1,4 L-13,10.5 C-12.8,14.8 -7,17.5 0.5,17.5 C8,17.5 13.5,14.8 13.4,10.5 L12.3,4 Z" fill="#231f20" stroke="#231f20" stroke-width="0.8" stroke-linejoin="round"/>
<path d="M-11.3,15.4 L-9.8,13.8 M-7.6,17.4 L-6.5,15.6 M-3.2,18.5 L-2.6,16.6 M1.6,18.7 L1.6,16.8 M6,18.1 L5.4,16.2 M9.8,16.4 L8.6,14.8 M12.6,14 L11.2,12.8" stroke="#fff" stroke-width="1.0" fill="none"/>
<path d="M-11.9,0 V9.3 L-8.1,12.3 L2.9,13.1 L12,9.9 V0 Z" fill="#fff" stroke="#231f20" stroke-width="1.5" stroke-linejoin="round"/>
<path d="M-8.1,4.5 V12.3 M2.9,5.5 V13.1" fill="none" stroke="#231f20" stroke-width="1.5"/>
<ellipse cx="0" cy="0" rx="11.3" ry="5.8" fill="#fff" stroke="#231f20" stroke-width="1.9"/>
<ellipse cx="0.2" cy="0.3" rx="6.5" ry="3.9" fill="#231f20"/>
</g>
<g transform="translate(461.8,289.5)">
<path d="M-12.1,4 L-13,10.5 C-12.8,14.8 -7,17.5 0.5,17.5 C8,17.5 13.5,14.8 13.4,10.5 L12.3,4 Z" fill="#231f20" stroke="#231f20" stroke-width="0.8" stroke-linejoin="round"/>
<path d="M-11.3,15.4 L-9.8,13.8 M-7.6,17.4 L-6.5,15.6 M-3.2,18.5 L-2.6,16.6 M1.6,18.7 L1.6,16.8 M6,18.1 L5.4,16.2 M9.8,16.4 L8.6,14.8 M12.6,14 L11.2,12.8" stroke="#fff" stroke-width="1.0" fill="none"/>
<path d="M-11.9,0 V9.3 L-8.1,12.3 L2.9,13.1 L12,9.9 V0 Z" fill="#fff" stroke="#231f20" stroke-width="1.5" stroke-linejoin="round"/>
<path d="M-8.1,4.5 V12.3 M2.9,5.5 V13.1" fill="none" stroke="#231f20" stroke-width="1.5"/>
<ellipse cx="0" cy="0" rx="11.3" ry="5.8" fill="#fff" stroke="#231f20" stroke-width="1.9"/>
<ellipse cx="0.2" cy="0.3" rx="6.5" ry="3.9" fill="#231f20"/>
</g>
<line class="l" x1="111.7" y1="257.5" x2="253.3" y2="304"/>
<circle cx="97.8" cy="252.7" r="13.6" fill="#fff" stroke="#231f20" stroke-width="1.75"/>
<text x="98.1" y="258.8" text-anchor="middle">1</text>
<line class="l" x1="100.6" y1="387.4" x2="247.2" y2="461.5"/>
<circle cx="88.5" cy="380.8" r="13.6" fill="#fff" stroke="#231f20" stroke-width="1.75"/>
<text x="88.8" y="386.9" text-anchor="middle">2</text>
<line class="l" x1="106.5" y1="514.9" x2="240.9" y2="537.7"/>
<circle cx="92.3" cy="512.4" r="13.6" fill="#fff" stroke="#231f20" stroke-width="1.75"/>
<text x="92.6" y="518.5" text-anchor="middle">3</text>
<line class="l" x1="154.3" y1="76.7" x2="233.4" y2="155.2"/>
<circle cx="144.2" cy="65.5" r="13.6" fill="#fff" stroke="#231f20" stroke-width="1.75"/>
<text x="144.5" y="71.6" text-anchor="middle">4</text>
</svg>
</body></html>
